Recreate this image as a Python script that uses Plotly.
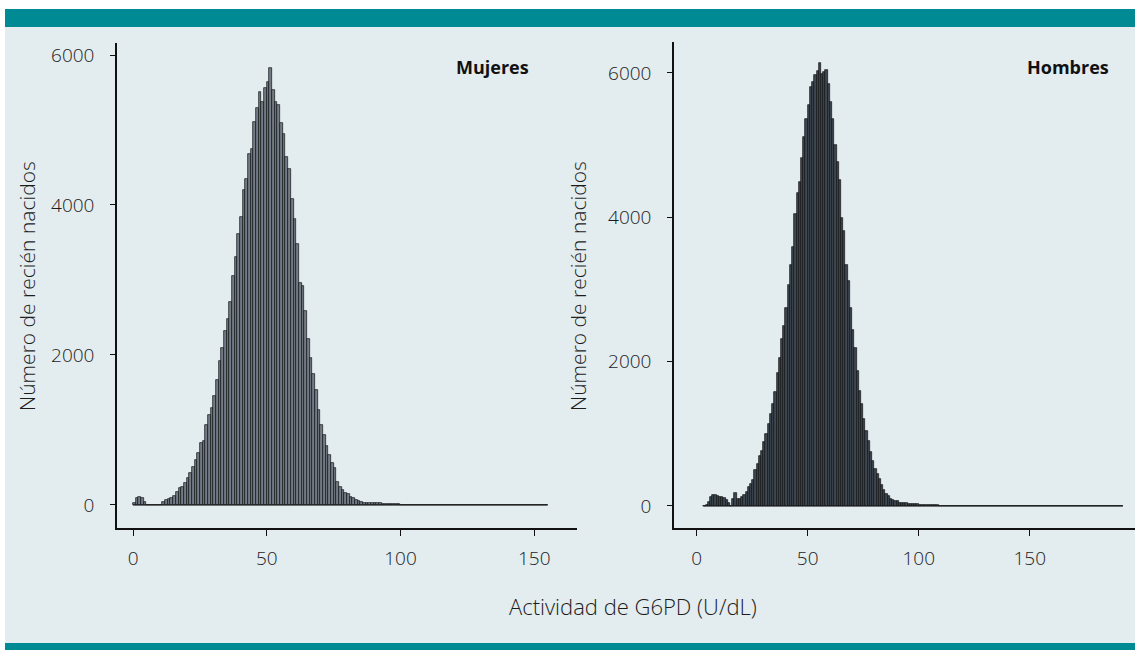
import plotly.graph_objects as go

# ---------------- data ----------------
# Mujeres: bin start values (U/dL), bin width 1
muj_start = 0
muj_counts = [
    30, 90, 110, 98, 45, 0, 0, 0, 0, 0,            # 0-9
    0, 45, 62, 76, 98, 125, 178, 223, 236, 290,     # 10-19
    365, 424, 500, 602, 692, 826, 847, 1071, 1205, 1294,   # 20-29
    1450, 1673, 1918, 2097, 2320, 2477, 2700, 3056, 3302, 3614,  # 30-39
    3838, 4194, 4350, 4685, 4752, 5110, 5288, 5511, 5377, 5556,  # 40-49
    5645, 5823, 5533, 5377, 5332, 5096, 4953, 4640, 4484, 4083,  # 50-59
    3815, 3480, 2954, 2923, 2588, 2209, 1963, 1740, 1539, 1272,  # 60-69
    1071, 937, 781, 669, 558, 491, 312, 236, 201, 156,           # 70-79
    143, 112, 89, 67, 54, 45, 31, 31, 31, 20,                    # 80-89
    20, 20, 20, 12, 11, 10, 9, 8, 8, 7,                          # 90-99
    6, 5, 5, 4, 4, 4, 3, 3, 3, 3,                                # 100-109
    3, 2, 2, 2, 2, 2, 2, 2, 2, 2,                                # 110-119
    1, 1, 1, 1, 1, 1, 1, 1, 1, 1,                                # 120-129
    1, 1, 1, 1, 1, 1, 1, 1, 1, 1,                                # 130-139
    1, 1, 1, 1, 1, 1, 1, 1, 1, 1,                                # 140-149
    1, 1, 1, 1, 1,                                               # 150-154
]

# Hombres
hom_start = 3
hom_counts = [
    5, 20, 55, 124, 147, 147, 133, 124,                          # 3-10
    124, 115, 87, 41, 0, 101, 179, 101, 101, 124,                # 11-20
    147, 193, 262, 308, 363, 492, 584, 690, 768, 883,            # 21-30
    998, 1136, 1274, 1412, 1573, 1849, 2056, 2309, 2493, 2746,   # 31-40
    3068, 3344, 3583, 4043, 4333, 4494, 4816, 5115, 5368, 5561,  # 41-50
    5805, 5874, 5966, 6021, 6141, 5989, 6012, 6035, 5851, 5598,  # 51-60
    5368, 5000, 4761, 4517, 3988, 3804, 3344, 3114, 2746, 2433,  # 61-70
    2194, 1872, 1587, 1412, 1205, 1044, 906, 745, 630, 515,      # 71-80
    437, 377, 285, 216, 170, 138, 101, 78, 64, 64,               # 81-90
    41, 41, 41, 41, 23, 23, 23, 23, 23, 12,                      # 91-100
    11, 10, 10, 9, 8, 8, 7, 7, 6, 6,                             # 101-110
    5, 5, 5, 4, 4, 4, 3, 3, 3, 3,                                # 111-120
    2, 2, 2, 2, 2, 2, 2, 2, 2, 2,                                # 121-130
    2, 2, 2, 2, 2, 1, 1, 1, 1, 1,                                # 131-140
    1, 1, 1, 1, 1, 1, 1, 1, 1, 1,                                # 141-150
    1, 1, 1, 1, 1, 1, 1, 1, 1, 1,                                # 151-160
    1, 1, 1, 1, 1, 1, 1, 1, 1, 1,                                # 161-170
    1, 1, 1, 1, 1, 1, 1, 1, 1, 1,                                # 171-180
    1, 1, 1, 1, 1, 1, 1, 1, 1, 1,                                # 181-190
    1,                                                           # 191
]

y_ticks = [0, 2000, 4000, 6000]
x_ticks = [0, 50, 100, 150]
panel_titles = ["Mujeres", "Hombres"]
y_title = "Número de recién nacidos"
x_title = "Actividad de G6PD (U/dL)"

# ---------------- styles ----------------
FONT = "Open Sans"
TXT = "#1c1c1c"
PANEL = "#E3ECEF"
TEAL = "#008A94"
BAR_FILLS = ["#737C86", "#3E4752"]
BAR_LINE = "#111111"
W, H = 1135, 650

def px_x(p):
    return p / W

def px_y(p):
    return 1 - p / H

fig = go.Figure()

for i, (start, counts) in enumerate([(muj_start, muj_counts), (hom_start, hom_counts)]):
    xs = [start + k + 0.5 for k in range(len(counts))]
    ax = "" if i == 0 else "2"
    fig.add_trace(go.Bar(
        x=xs, y=counts, width=1,
        marker=dict(color=BAR_FILLS[i], line=dict(color=BAR_LINE, width=0.7)),
        xaxis="x" + ax, yaxis="y" + ax, showlegend=False, hoverinfo="skip",
    ))
    # baseline of the histogram (from first to last bin edge)
    fig.add_trace(go.Scatter(
        x=[start, start + len(counts)], y=[0, 0], mode="lines",
        line=dict(color="#111111", width=1.2),
        xaxis="x" + ax, yaxis="y" + ax, showlegend=False, hoverinfo="skip",
    ))

tickfont = dict(family=FONT, size=19, color=TXT, weight=300)
common_x = dict(showline=True, linecolor="#111", linewidth=1.5, ticks="outside",
                ticklen=6, tickwidth=1.3, tickcolor="#111", tickvals=x_ticks,
                ticktext=[str(v) for v in x_ticks], tickfont=tickfont,
                showgrid=False, zeroline=False, ticklabelstandoff=6)
common_y = dict(showline=True, linecolor="#111", linewidth=1.5, ticks="outside",
                ticklen=5, tickwidth=1.3, tickcolor="#111", tickvals=y_ticks,
                ticktext=[str(v) for v in y_ticks], tickfont=tickfont,
                showgrid=False, zeroline=False, ticklabelstandoff=12)

ytitle_font = dict(family=FONT, size=21, color=TXT, weight=300)
xtitle_font = dict(family=FONT, size=22, color=TXT, weight=300)

fig.update_layout(
    width=W, height=H,
    margin=dict(l=0, r=0, t=0, b=0),
    paper_bgcolor="white",
    plot_bgcolor="rgba(0,0,0,0)",
    bargap=0,
    xaxis=dict(domain=[px_x(117), px_x(577)], range=[-6.0, 166], anchor="y", **common_x),
    yaxis=dict(domain=[px_y(528), px_y(43)], range=[-307, 6160], anchor="x", **common_y),
    xaxis2=dict(domain=[px_x(674), 1.0], range=[-10.2, 197.4], anchor="y2", **common_x),
    yaxis2=dict(domain=[px_y(528), px_y(42)], range=[-305, 6429], anchor="x2", **common_y),
    shapes=[
        dict(type="rect", xref="paper", yref="paper", x0=px_x(5), x1=1, y0=0, y1=px_y(27),
             fillcolor=PANEL, line=dict(width=0), layer="below"),
        dict(type="rect", xref="paper", yref="paper", x0=px_x(5), x1=1, y0=px_y(27), y1=px_y(9),
             fillcolor=TEAL, line=dict(width=0), layer="below"),
        dict(type="rect", xref="paper", yref="paper", x0=px_x(5), x1=1, y0=0, y1=px_y(643),
             fillcolor=TEAL, line=dict(width=0), layer="below"),
    ],
    annotations=[
        dict(text="<b>%s</b>" % panel_titles[0], xref="paper", yref="paper",
             x=px_x(531), y=px_y(67), xanchor="right", yanchor="middle", showarrow=False,
             font=dict(family=FONT, size=18, color="#111")),
        dict(text="<b>%s</b>" % panel_titles[1], xref="paper", yref="paper",
             x=px_x(1111), y=px_y(67), xanchor="right", yanchor="middle", showarrow=False,
             font=dict(family=FONT, size=18, color="#111")),
        dict(text=y_title, xref="paper", yref="paper", x=px_x(27), y=px_y(286),
             xanchor="center", yanchor="middle", textangle=-90, showarrow=False,
             font=ytitle_font),
        dict(text=y_title, xref="paper", yref="paper", x=px_x(578), y=px_y(286),
             xanchor="center", yanchor="middle", textangle=-90, showarrow=False,
             font=ytitle_font),
        dict(text=x_title, xref="paper", yref="paper", x=px_x(633), y=px_y(606),
             xanchor="center", yanchor="middle", showarrow=False,
             font=xtitle_font),
    ],
)

fig.write_html("out.html",
               config={"displayModeBar": False},
               post_script="document.body.style.margin='0px';document.body.style.padding='0px';")
